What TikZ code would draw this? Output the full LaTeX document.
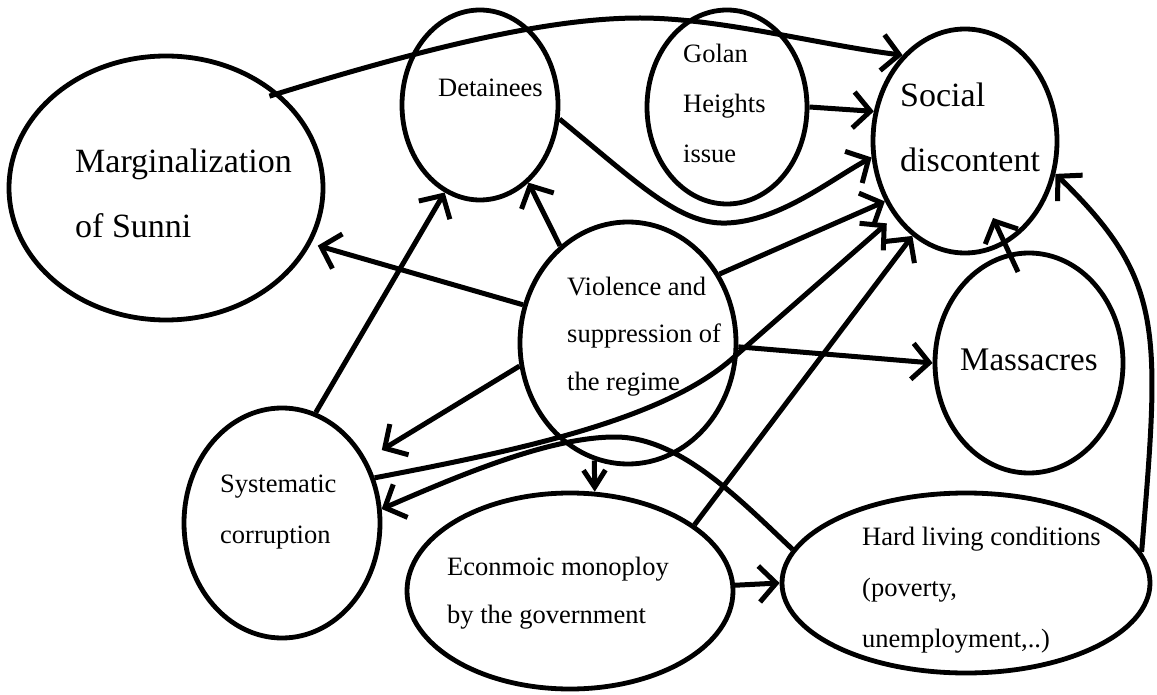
\documentclass[tikz,border=0pt]{standalone}
\usepackage{fontspec}
\setmainfont{Liberation Serif}
\usetikzlibrary{arrows.meta,shapes.geometric,calc}
% left-aligned block of lines whose reference point is the first baseline
\newcommand{\stacklines}[3]{\fontsize{#1}{#2}\selectfont\begin{tabular}[t]{@{}l@{}}#3\end{tabular}}
\begin{document}
\begin{tikzpicture}[x=1pt,y=-1pt,
  issue/.style={draw, ellipse, line width=4.8pt, inner sep=0pt},
  issuetext/.style={inner sep=0pt, anchor=base west},
  cause/.style={line width=5pt, -{Straight Barb[length=17pt,width=36pt]}},
  shortcause/.style={line width=5pt, -{Straight Barb[length=17pt,width=22pt]}}]
\useasboundingbox (0,0) rectangle (1157,695);

% factors
\node[issue, minimum width=314pt, minimum height=264pt] (marg) at (166,188) {};
\node[issue, minimum width=156pt, minimum height=190pt] (det)  at (480,105) {};
\node[issue, minimum width=160pt, minimum height=194pt] (golan) at (727,107) {};
\node[issue, minimum width=184pt, minimum height=224pt] (soc)  at (965,141) {};
\node[issue, minimum width=216pt, minimum height=242pt] (vio)  at (628,343) {};
\node[issue, minimum width=188pt, minimum height=220pt] (mas)  at (1029,363) {};
\node[issue, minimum width=196pt, minimum height=230pt] (sys)  at (282,523) {};
\node[issue, minimum width=326pt, minimum height=196pt] (eco)  at (570,591) {};
\node[issue, minimum width=368pt, minimum height=180pt] (hl)   at (966,583) {};

% their captions
\node[issuetext] (margT) at (75,173) {\stacklines{34}{65}{Marginalization\\of Sunni}};
\node[issuetext] (detT) at (438,97) {\stacklines{26.5}{50}{Detainees}};
\node[issuetext] (golanT) at (683,63) {\stacklines{26.5}{50}{Golan\\Heights\\issue}};
\node[issuetext] (socT) at (900,107) {\stacklines{34}{65}{Social\\discontent}};
\node[issuetext] (vioT) at (567,295) {\stacklines{26.5}{47.5}{Violence and\\suppression of\\the regime}};
\node[issuetext] (masT) at (960,370) {\stacklines{33}{60}{Massacres}};
\node[issuetext] (sysT) at (220,492) {\stacklines{26.5}{51}{Systematic\\corruption}};
\node[issuetext] (ecoT) at (447,575) {\stacklines{26.5}{48}{Econmoic monoploy\\by the government}};
\node[issuetext] (hlT) at (862,545) {\stacklines{26.5}{51}{Hard living conditions\\(poverty,\\unemployment,..)}};

% causal links into social discontent
\draw[cause, shorten <=-10pt] (marg.40) .. controls (450,40) and (560,18) .. (640,18)
      .. controls (720,18) and (820,45) .. (soc.126);
\draw[cause] (golan.0) -- (soc.162);
\draw[cause] (det.-10) .. controls (640,185) and (680,225) .. (727,223)
      .. controls (780,221) and (830,180) .. (soc.190);
\draw[cause] (vio.37) -- (soc.217);
\draw[cause, shorten >=10pt] (sys.26) .. controls (520,450) and (663,420) .. (733,358) -- (soc.227);
\draw[cause] (eco.28) -- (soc.241);
\draw[cause] ($(mas.center)+(-11,-91)$) -- ($(soc.center)+(28,77)$);
\draw[cause] (hl.10) .. controls (1160,330) and (1165,280) .. (soc.-20);

% links out of violence and suppression
\draw[cause] (vio.125) -- (det.-58);
\draw[cause, shorten >=7pt] (vio.160) -- (marg.-21);
\draw[cause, shorten >=18pt] (vio.192) -- (sys.37);
\draw[cause] (vio.-2) -- (mas.180);
\draw[shortcause] (vio.254) -- (eco.76);

% remaining links
\draw[cause] (sys.73) -- (det.-112);
\draw[cause] (eco.2) -- (hl.180);
\draw[cause] (hl.169) .. controls (740,500) and (680,437) .. (615,437)
      .. controls (550,437) and (460,475) .. (sys.8);
\end{tikzpicture}
\end{document}
